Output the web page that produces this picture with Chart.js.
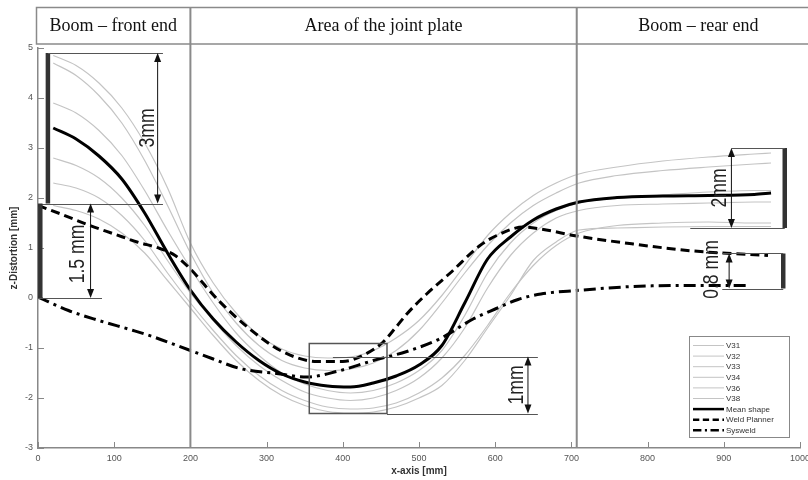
<!DOCTYPE html>
<html>
<head>
<meta charset="utf-8">
<script src="https://cdn.jsdelivr.net/npm/chart.js@4.4.1/dist/chart.umd.min.js"></script>
<style>
  html, body { margin: 0; padding: 0; background: #fff; }
</style>
</head>
<body>
<canvas id="chart" width="808" height="480"></canvas>
<script>
// x positions (mm) shared by the measured runs and the mean shape
const gridX = [20, 50, 80, 110, 140, 170, 200, 230, 260, 290, 320, 350, 380, 410, 440, 470, 500, 530, 560, 590, 620, 650, 680, 710, 760, 820, 880, 940, 962];

const v31 = [4.85, 4.65, 4.30, 3.80, 3.10, 2.20, 1.10, 0.30, -0.30, -0.75, -1.02, -1.16, -1.20, -1.18, -1.05, -0.80, -0.45, 0.05, 0.65, 1.25, 1.70, 2.05, 2.30, 2.48, 2.62, 2.74, 2.82, 2.88, 2.90];
const v32 = [4.70, 4.45, 4.05, 3.50, 2.75, 1.85, 0.90, 0.10, -0.50, -0.95, -1.25, -1.40, -1.45, -1.42, -1.30, -1.05, -0.65, -0.10, 0.50, 1.05, 1.50, 1.85, 2.10, 2.30, 2.45, 2.55, 2.62, 2.68, 2.70];
const v33 = [3.90, 3.70, 3.35, 2.85, 2.15, 1.35, 0.60, -0.10, -0.70, -1.15, -1.50, -1.72, -1.85, -1.90, -1.85, -1.70, -1.45, -1.05, -0.35, 0.50, 1.10, 1.50, 1.75, 1.90, 2.00, 2.06, 2.12, 2.15, 2.15];
const v34 = [2.80, 2.65, 2.40, 2.00, 1.45, 0.75, 0.10, -0.45, -0.95, -1.35, -1.65, -1.88, -2.00, -2.05, -2.00, -1.85, -1.60, -1.20, -0.60, 0.20, 0.85, 1.30, 1.60, 1.75, 1.85, 1.88, 1.90, 1.92, 1.92];
const v36 = [2.30, 2.20, 2.00, 1.65, 1.15, 0.50, -0.10, -0.65, -1.15, -1.55, -1.85, -2.05, -2.18, -2.22, -2.20, -2.10, -1.90, -1.60, -1.15, -0.55, 0.10, 0.65, 1.05, 1.30, 1.45, 1.50, 1.52, 1.50, 1.50];
const v38 = [1.85, 1.75, 1.58, 1.30, 0.90, 0.35, -0.20, -0.75, -1.25, -1.65, -1.95, -2.15, -2.27, -2.30, -2.28, -2.18, -2.00, -1.75, -1.25, -0.60, 0.05, 0.75, 1.12, 1.36, 1.40, 1.42, 1.43, 1.43, 1.43];
const meanShape = [3.40, 3.18, 2.84, 2.38, 1.70, 0.90, 0.16, -0.42, -0.88, -1.25, -1.52, -1.68, -1.76, -1.78, -1.70, -1.56, -1.34, -0.95, -0.10, 0.78, 1.22, 1.56, 1.78, 1.92, 2.01, 2.04, 2.05, 2.07, 2.10];

const weldX = [0, 30, 68, 100, 130, 160, 180, 200, 235, 278, 322, 366, 400, 430, 453, 470, 484, 510, 541, 580, 602, 637, 660, 707, 781, 860, 958];
const weldY = [1.85, 1.68, 1.45, 1.28, 1.12, 0.99, 0.85, 0.58, -0.02, -0.62, -1.08, -1.27, -1.27, -1.12, -0.88, -0.58, -0.32, 0.08, 0.50, 1.05, 1.25, 1.42, 1.38, 1.24, 1.08, 0.94, 0.85];

const sysX = [0, 40, 80, 125, 150, 200, 230, 265, 313, 353, 392, 440, 484, 528, 571, 600, 630, 660, 707, 781, 856, 930];
const sysY = [0.02, -0.25, -0.45, -0.65, -0.77, -1.05, -1.22, -1.41, -1.51, -1.58, -1.47, -1.25, -1.07, -0.81, -0.42, -0.22, -0.03, 0.08, 0.15, 0.23, 0.25, 0.25];

const runLabels = ['V31', 'V32', 'V33', 'V34', 'V36', 'V38'];
const runValues = [v31, v32, v33, v34, v36, v38];

const sections = ['Boom \u2013 front end', 'Area of the joint plate', 'Boom \u2013 rear end'];
const sectionBounds = [200, 707];

const xTicks = [0, 100, 200, 300, 400, 500, 600, 700, 800, 900, 1000];
const yTicks = [-3, -2, -1, 0, 1, 2, 3, 4, 5];

// measurement brackets, in data units
const brackets = [
  { bar: [13, 4.9, 1.89], lines: [[13, 164, 4.9], [0, 164, 1.89]], arrow: [157, 4.9, 1.89], text: '3mm', at: [144, 3.4] },
  { bar: [3, 1.89, 0], lines: [[0, 84, 0]], arrow: [69, 1.89, 0], text: '1.5 mm', at: [52, 0.88] },
  { box: [356, 458, -0.91, -2.31], lines: [[387, 656, -1.17], [458, 656, -2.31]], arrow: [643, -1.17, -2.31], text: '1mm', at: [628, -1.74] },
  { bar: [980, 3.0, 1.4], lines: [[910, 980, 3.0], [856, 980, 1.4]], arrow: [910, 3.0, 1.4], text: '2mm', at: [895, 2.2] },
  { bar: [978, 0.89, 0.19], lines: [[898, 978, 0.89], [898, 978, 0.19]], arrow: [907, 0.89, 0.19], text: '0.8 mm', at: [885, 0.57] }
];

const toPoints = (xs, ys) => xs.map((x, i) => ({ x: x, y: ys[i] }));

const datasets = runLabels.map((label, i) => ({
  label: label,
  data: toPoints(gridX, runValues[i]),
  borderColor: '#c4c4c4',
  borderWidth: 1.2,
  order: 2
}));
datasets.push({ label: 'Mean shape', data: toPoints(gridX, meanShape), borderColor: '#000', borderWidth: 3, order: 1 });
datasets.push({ label: 'Weld Planner', data: toPoints(weldX, weldY), borderColor: '#000', borderWidth: 3, borderDash: [9, 5], order: 1 });
datasets.push({ label: 'Sysweld', data: toPoints(sysX, sysY), borderColor: '#000', borderWidth: 3, borderDash: [12, 5, 3, 5], order: 1 });

function arrowHead(ctx, x, y, dir) {
  ctx.beginPath();
  ctx.moveTo(x, y);
  ctx.lineTo(x - 3.5, y - dir * 9);
  ctx.lineTo(x + 3.5, y - dir * 9);
  ctx.closePath();
  ctx.fill();
}

const overlay = {
  id: 'overlay',
  afterDatasetsDraw(chart) {
    const ctx = chart.ctx;
    const area = chart.chartArea;
    const X = v => chart.scales.x.getPixelForValue(v);
    const Y = v => chart.scales.y.getPixelForValue(v);
    ctx.save();

    // inward ticks
    ctx.strokeStyle = '#888';
    ctx.lineWidth = 1;
    ctx.beginPath();
    xTicks.forEach(v => { ctx.moveTo(Math.round(X(v)) + 0.5, area.bottom); ctx.lineTo(Math.round(X(v)) + 0.5, area.bottom - 6); });
    yTicks.forEach(v => { ctx.moveTo(area.left, Math.round(Y(v)) + 0.5); ctx.lineTo(area.left + 6, Math.round(Y(v)) + 0.5); });
    ctx.stroke();

    // section header and dividers
    ctx.strokeStyle = '#8a8a8a';
    ctx.lineWidth = 1.5;
    ctx.strokeRect(36.5, 7.5, 790, 36.5);
    ctx.lineWidth = 2;
    ctx.beginPath();
    sectionBounds.forEach(b => { ctx.moveTo(X(b), 7.5); ctx.lineTo(X(b), area.bottom); });
    ctx.stroke();
    const edges = [36, X(sectionBounds[0]), X(sectionBounds[1]), 820];
    ctx.fillStyle = '#111';
    ctx.font = '18px "Liberation Serif", "Times New Roman", serif';
    ctx.textAlign = 'center';
    ctx.textBaseline = 'middle';
    sections.forEach((s, i) => ctx.fillText(s, (edges[i] + edges[i + 1]) / 2, 26));

    // brackets
    brackets.forEach(b => {
      if (b.bar) {
        ctx.strokeStyle = '#333';
        ctx.lineWidth = 4.5;
        ctx.beginPath();
        ctx.moveTo(X(b.bar[0]), Y(b.bar[1]));
        ctx.lineTo(X(b.bar[0]), Y(b.bar[2]));
        ctx.stroke();
      }
      if (b.box) {
        ctx.strokeStyle = '#555';
        ctx.lineWidth = 1.5;
        ctx.strokeRect(X(b.box[0]), Y(b.box[2]), X(b.box[1]) - X(b.box[0]), Y(b.box[3]) - Y(b.box[2]));
      }
      ctx.strokeStyle = '#555';
      ctx.lineWidth = 1;
      ctx.beginPath();
      b.lines.forEach(l => { ctx.moveTo(X(l[0]), Math.round(Y(l[2])) + 0.5); ctx.lineTo(X(l[1]), Math.round(Y(l[2])) + 0.5); });
      ctx.stroke();
      const ax = X(b.arrow[0]), ay1 = Y(b.arrow[1]), ay2 = Y(b.arrow[2]);
      ctx.strokeStyle = '#111';
      ctx.beginPath();
      ctx.moveTo(ax, ay1 + 6);
      ctx.lineTo(ax, ay2 - 6);
      ctx.stroke();
      ctx.fillStyle = '#111';
      arrowHead(ctx, ax, ay1, -1);
      arrowHead(ctx, ax, ay2, 1);
      ctx.save();
      ctx.translate(X(b.at[0]), Y(b.at[1]));
      ctx.rotate(-Math.PI / 2);
      ctx.scale(0.8, 1);
      ctx.font = '22px "Liberation Sans", Arial, sans-serif';
      ctx.fillStyle = '#222';
      ctx.textAlign = 'center';
      ctx.textBaseline = 'middle';
      ctx.fillText(b.text, 0, 0);
      ctx.restore();
    });

    // legend box
    const lx = 689, ly = 336, lw = 100, lh = 101;
    ctx.fillStyle = '#fff';
    ctx.fillRect(lx, ly, lw, lh);
    ctx.strokeStyle = '#888';
    ctx.lineWidth = 1;
    ctx.strokeRect(lx + 0.5, ly + 0.5, lw, lh);
    ctx.font = '8px "Liberation Sans", Arial, sans-serif';
    ctx.textAlign = 'left';
    ctx.textBaseline = 'middle';
    chart.data.datasets.forEach((ds, i) => {
      const yy = ly + 9.5 + i * 10.6;
      ctx.save();
      ctx.strokeStyle = ds.borderColor;
      ctx.lineWidth = ds.borderWidth > 2 ? 2.5 : 1;
      ctx.setLineDash(ds.borderDash ? ds.borderDash.map(d => d * 0.7) : []);
      ctx.beginPath();
      ctx.moveTo(lx + 4, yy);
      ctx.lineTo(lx + 35, yy);
      ctx.stroke();
      ctx.restore();
      ctx.fillStyle = '#333';
      ctx.fillText(ds.label, lx + 37, yy + 0.5);
    });
    ctx.restore();
  }
};

Chart.defaults.font.family = '"Liberation Sans", Arial, sans-serif';

new Chart(document.getElementById('chart'), {
  type: 'scatter',
  data: { datasets: datasets },
  options: {
    responsive: false,
    animation: false,
    showLine: true,
    elements: {
      point: { radius: 0 },
      line: { cubicInterpolationMode: 'monotone', fill: false }
    },
    layout: { padding: { top: 48, right: 8, left: 0, bottom: 0 } },
    plugins: { legend: { display: false }, tooltip: { enabled: false } },
    scales: {
      x: {
        type: 'linear',
        min: 0,
        max: 1000,
        afterBuildTicks: s => { s.ticks = xTicks.map(v => ({ value: v })); },
        ticks: { font: { size: 9 }, color: '#555', padding: 5, maxRotation: 0, callback: v => String(v) },
        grid: { display: false, drawTicks: false },
        border: { display: true, color: '#888', width: 1.5 },
        title: { display: true, text: 'x-axis [mm]', font: { size: 10, weight: 'bold' }, color: '#333', padding: { top: 0, bottom: 3 } },
        afterFit: s => { s.height = 32; s.paddingLeft = 0; s.paddingRight = 0; }
      },
      y: {
        min: -3,
        max: 5,
        afterBuildTicks: s => { s.ticks = yTicks.map(v => ({ value: v })); },
        ticks: { font: { size: 9 }, color: '#555', padding: 5, callback: v => String(v) },
        grid: { display: false, drawTicks: false },
        border: { display: true, color: '#888', width: 1.5 },
        title: { display: true, text: 'z-Distortion [mm]', font: { size: 10, weight: 'bold' }, color: '#333', padding: { top: 8, bottom: 0 } },
        afterFit: s => { s.width = 38; s.paddingTop = 0; s.paddingBottom = 0; }
      }
    }
  },
  plugins: [overlay]
});
</script>
</body>
</html>
